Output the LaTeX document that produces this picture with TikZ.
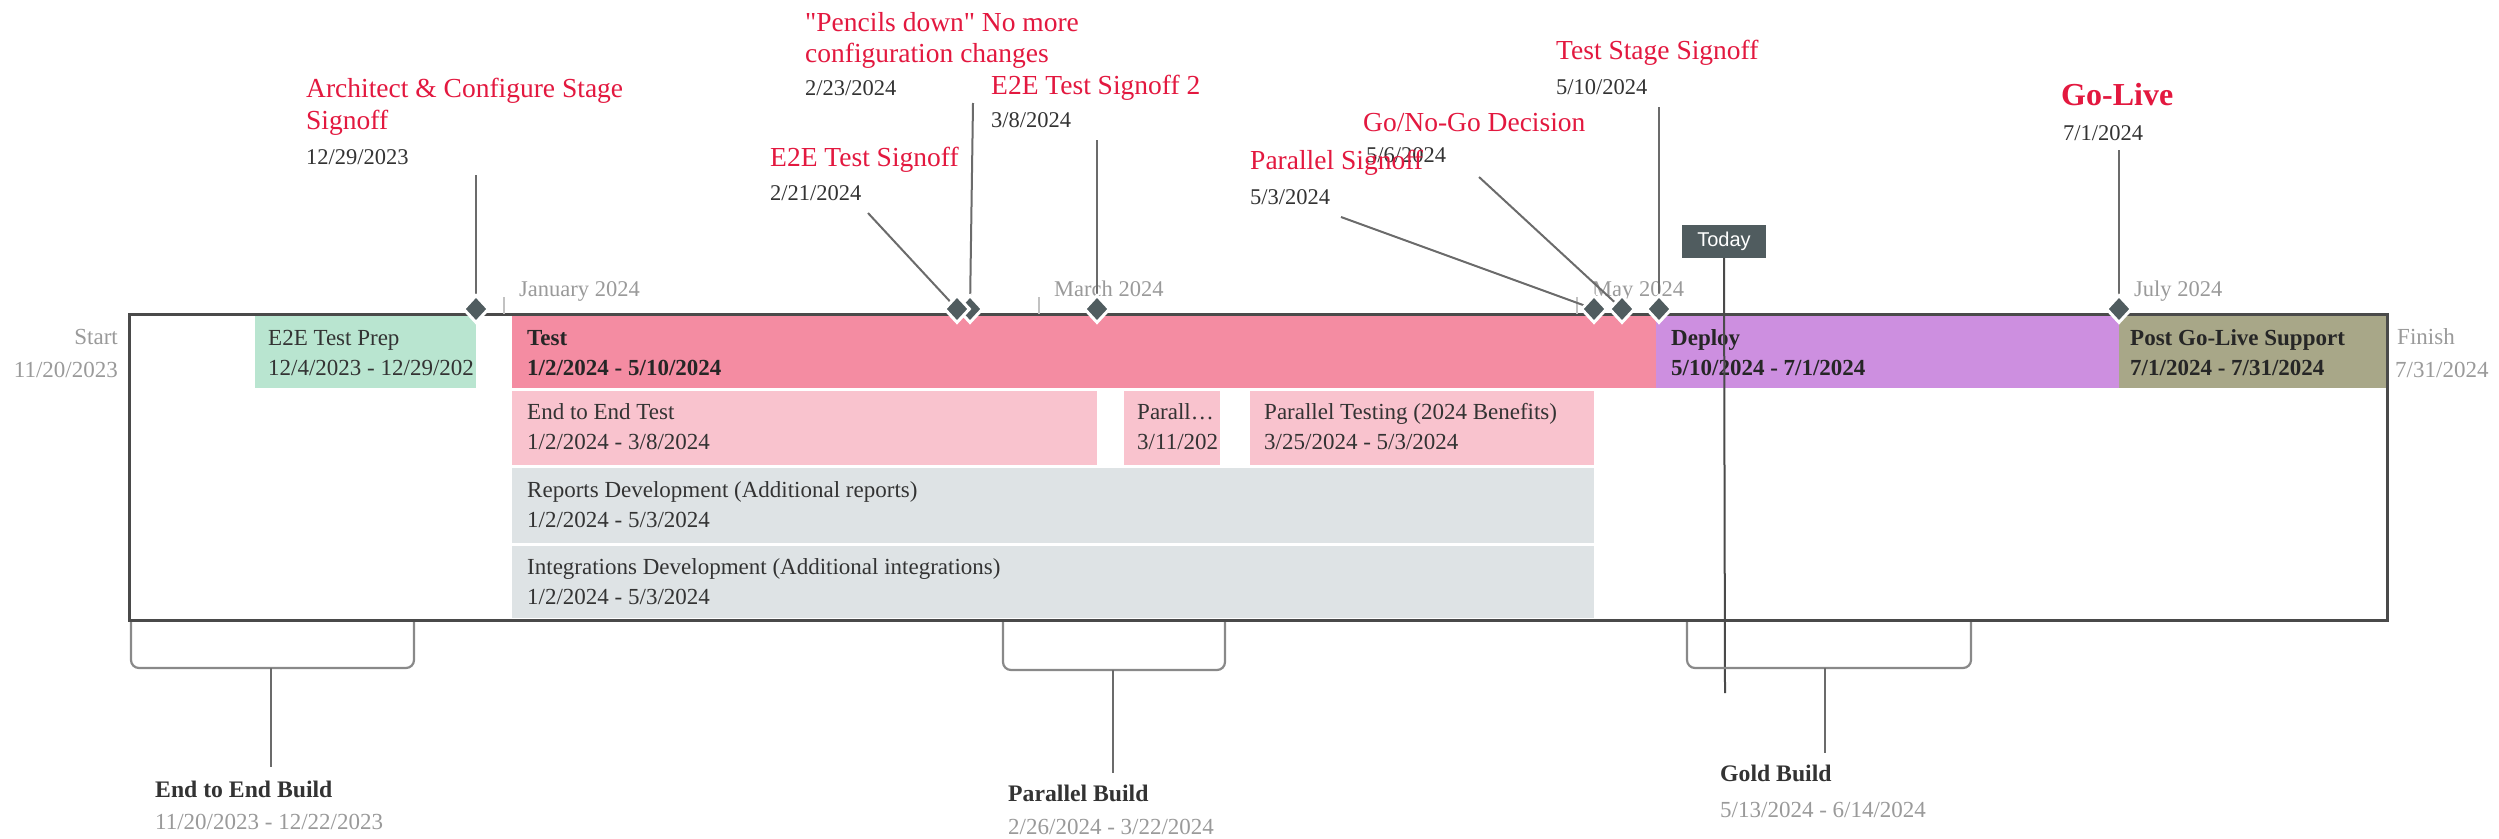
\documentclass[tikz,border=0pt]{standalone}
\usepackage{fontspec}
\setmainfont{Liberation Serif}
\newfontfamily\sansf{Liberation Sans}
\usetikzlibrary{shapes.geometric}
\definecolor{prepgreen}{HTML}{B9E5D0}
\definecolor{testpink}{HTML}{F48CA2}
\definecolor{lightpink}{HTML}{F9C3CE}
\definecolor{rowgrey}{HTML}{DEE3E5}
\definecolor{deploypurple}{HTML}{CD8FE0}
\definecolor{olive}{HTML}{A8A788}
\definecolor{msdark}{HTML}{505C5F}
\definecolor{boxline}{HTML}{4A4A4A}
\definecolor{leader}{HTML}{6B6B6B}
\definecolor{monthgrey}{HTML}{9A9A9A}
\definecolor{msred}{HTML}{E3183F}
\definecolor{tdark}{HTML}{333333}
\begin{document}
\begin{tikzpicture}[x=1pt,y=-1pt,
  txt/.style={anchor=base west, inner sep=0pt, text=tdark, font=\fontsize{23}{27}\selectfont},
  btxt/.style={txt, font=\fontsize{23}{27}\selectfont\bfseries, text=black!85},
  mstitle/.style={anchor=base west, inner sep=0pt, text=msred, font=\fontsize{27.5}{31}\selectfont},
  msdate/.style={anchor=base west, inner sep=0pt, text=tdark, font=\fontsize{22.5}{26}\selectfont},
  month/.style={anchor=base west, inner sep=0pt, text=monthgrey, font=\fontsize{22.5}{26}\selectfont},
  endlbl/.style={inner sep=0pt, text=monthgrey, font=\fontsize{23}{27}\selectfont},
  msdiamond/.style={shape=diamond, fill=msdark, draw=white, line width=3pt, minimum width=26pt, minimum height=28pt, inner sep=0pt},
  leadline/.style={draw=leader, line width=2pt},
  bracket/.style={draw=leader!80, line width=2.2pt, rounded corners=8pt},
  buildt/.style={anchor=base west, inner sep=0pt, text=tdark, font=\fontsize{23.7}{28}\selectfont\bfseries},
  buildd/.style={anchor=base west, inner sep=0pt, text=monthgrey, font=\fontsize{23}{27}\selectfont},
]
\useasboundingbox (0,0) rectangle (2499,838);
\fill[white] (0,0) rectangle (2499,838);

% bars row 1
\fill[prepgreen] (255,316) rectangle (476,388);
\fill[testpink] (512,316) rectangle (1656,388);
\fill[deploypurple] (1656,316) rectangle (2119,388);
\fill[olive] (2119,316) rectangle (2387,388);
% row 2
\fill[lightpink] (512,391) rectangle (1097,465);
\fill[lightpink] (1124,391) rectangle (1220,465);
\fill[lightpink] (1250,391) rectangle (1594,465);
% rows 3,4
\fill[rowgrey] (512,468) rectangle (1594,543);
\fill[rowgrey] (512,546) rectangle (1594,618);

% box
\draw[boxline, line width=3pt] (129,314) rectangle (2387,620);

% month ticks and labels
\draw[monthgrey!60, line width=1.2pt] (504,297) -- (504,314);
\draw[monthgrey!60, line width=1.2pt] (1039,297) -- (1039,314);
\draw[monthgrey!60, line width=1.2pt] (1577,297) -- (1577,314);
\node[month] (mjan) at (519,296) {January 2024};
\node[month] (mmar) at (1054,296) {March 2024};
\node[month] (mmay) at (1592,296) {May 2024};
\node[month] (mjul) at (2134,296) {July 2024};

% Start / Finish
\node[endlbl, anchor=base east] (start) at (118,344) {Start};
\node[endlbl, anchor=base east] (startd) at (118,377) {11/20/2023};
\node[endlbl, anchor=base west] (finish) at (2397,344) {Finish};
\node[endlbl, anchor=base west] (finishd) at (2395,377) {7/31/2024};

% bar texts
\node[txt] (prep1) at (268,345) {E2E Test Prep};
\node[txt] (prep2) at (268,375) {12/4/2023 - 12/29/202};
\node[btxt] (test1) at (527,345) {Test};
\node[btxt] (test2) at (527,375) {1/2/2024 - 5/10/2024};
\node[btxt] (dep1) at (1671,345) {Deploy};
\node[btxt] (dep2) at (1671,375) {5/10/2024 - 7/1/2024};
\node[btxt] (pgl1) at (2130,345) {Post Go-Live Support};
\node[btxt] (pgl2) at (2130,375) {7/1/2024 - 7/31/2024};
\node[txt] (e2e1) at (527,419) {End to End Test};
\node[txt] (e2e2) at (527,449) {1/2/2024 - 3/8/2024};
\node[txt] (par1) at (1137,419) {Parall…};
\node[txt] (par2) at (1137,449) {3/11/202};
\node[txt] (pt1) at (1264,419) {Parallel Testing (2024 Benefits)};
\node[txt] (pt2) at (1264,449) {3/25/2024 - 5/3/2024};
\node[txt] (rep1) at (527,497) {Reports Development (Additional reports)};
\node[txt] (rep2) at (527,527) {1/2/2024 - 5/3/2024};
\node[txt] (int1) at (527,574) {Integrations Development (Additional integrations)};
\node[txt] (int2) at (527,604) {1/2/2024 - 5/3/2024};

% milestone positions
\coordinate (m1) at (476,309);
\coordinate (m2) at (970,309);
\coordinate (m3) at (957,309);
\coordinate (m4) at (1097,309);
\coordinate (m5) at (1594,309);
\coordinate (m6) at (1622,309);
\coordinate (m7) at (1659,309);
\coordinate (m8) at (2119,309);
\coordinate (l1) at (476,175);
\coordinate (l2) at (973,103);
\coordinate (l3) at (868,213);
\coordinate (l4) at (1097,140);
\coordinate (l5) at (1341,217);
\coordinate (l6) at (1479,177);
\coordinate (l7) at (1659,107);
\coordinate (l8) at (2119,150);

\draw[leadline] (l1) -- (m1);
\draw[leadline] (l2) -- (m2);
\draw[leadline] (l3) -- (m3);
\draw[leadline] (l4) -- (m4);
\draw[leadline] (l5) -- (m5);
\draw[leadline] (l6) -- (m6);
\draw[leadline] (l7) -- (m7);
\draw[leadline] (l8) -- (m8);

\node[msdiamond] (d1) at (m1) {};
\node[msdiamond] (d2) at (m2) {};
\node[msdiamond] (d3) at (m3) {};
\node[msdiamond] (d4) at (m4) {};
\node[msdiamond] (d5) at (m5) {};
\node[msdiamond] (d6) at (m6) {};
\node[msdiamond] (d7) at (m7) {};
\node[msdiamond] (d8) at (m8) {};

% milestone texts
\node[mstitle] (t1a) at (306,97) {Architect \& Configure Stage};
\node[mstitle] (t1b) at (306,129) {Signoff};
\node[msdate] (t1c) at (306,164) {12/29/2023};
\node[mstitle] (t2a) at (805,31) {\textquotedbl Pencils down\textquotedbl{} No more};
\node[mstitle] (t2b) at (805,62) {configuration changes};
\node[msdate] (t2c) at (805,95) {2/23/2024};
\node[mstitle] (t3a) at (770,166) {E2E Test Signoff};
\node[msdate] (t3c) at (770,200) {2/21/2024};
\node[mstitle] (t4a) at (991,94) {E2E Test Signoff 2};
\node[msdate] (t4c) at (991,127) {3/8/2024};
\node[mstitle] (t6a) at (1363,131) {Go/No-Go Decision};
\node[msdate] (t6c) at (1366,162) {5/6/2024};
\node[mstitle] (t5a) at (1250,169) {Parallel Signoff};
\node[msdate] (t5c) at (1250,204) {5/3/2024};
\node[mstitle] (t7a) at (1556,59) {Test Stage Signoff};
\node[msdate] (t7c) at (1556,94) {5/10/2024};
\node[mstitle, font=\fontsize{32}{36}\selectfont\bfseries] (t8a) at (2061,105) {Go-Live};
\node[msdate] (t8c) at (2063,140) {7/1/2024};

% Today marker
\node[fill=msdark, text=white, font=\sansf\fontsize{20}{23}\selectfont, minimum width=84pt, minimum height=33pt, inner sep=0pt] (today) at (1724,241.5) {Today};
\coordinate (todayend) at (1725,693);
\draw[boxline, line width=2pt] (today.south) -- (todayend);

% bottom brackets
\draw[bracket] (131,622) -- (131,668) -- (414,668) -- (414,622);
\draw[bracket] (1003,622) -- (1003,670) -- (1225,670) -- (1225,622);
\draw[bracket] (1687,622) -- (1687,668) -- (1971,668) -- (1971,622);
\coordinate (b1) at (271,668);
\coordinate (b1e) at (271,767);
\coordinate (b2) at (1113,670);
\coordinate (b2e) at (1113,773);
\coordinate (b3) at (1825,668);
\coordinate (b3e) at (1825,753);
\draw[leadline] (b1) -- (b1e);
\draw[leadline] (b2) -- (b2e);
\draw[leadline] (b3) -- (b3e);

\node[buildt] (bt1) at (155,797) {End to End Build};
\node[buildd] (bd1) at (155,829) {11/20/2023 - 12/22/2023};
\node[buildt] (bt2) at (1008,801) {Parallel Build};
\node[buildd] (bd2) at (1008,834) {2/26/2024 - 3/22/2024};
\node[buildt] (bt3) at (1720,781) {Gold Build};
\node[buildd] (bd3) at (1720,817) {5/13/2024 - 6/14/2024};
\end{tikzpicture}
\end{document}
